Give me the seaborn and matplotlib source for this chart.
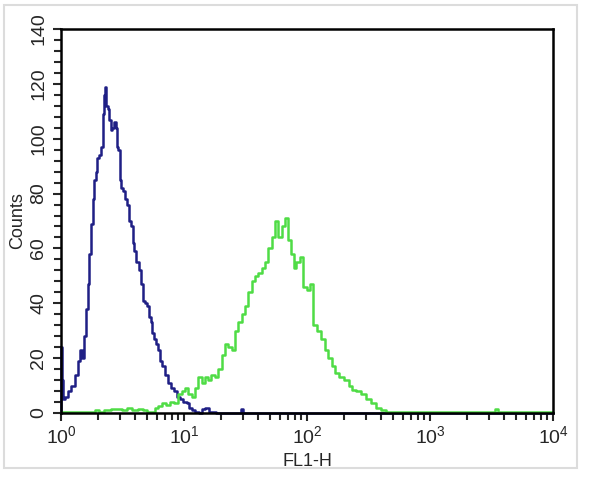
import matplotlib
matplotlib.use("Agg")
import matplotlib.pyplot as plt
from matplotlib.patches import Rectangle
from matplotlib.ticker import MultipleLocator, LogLocator
import seaborn as sns

# Control histogram (blue): FL1-H position, counts
blue_x = [1.0, 1.005, 1.03, 1.06, 1.10, 1.17, 1.26, 1.33, 1.40, 1.47, 1.52, 1.57, 1.62, 1.67,
          1.73, 1.78, 1.84, 1.89, 1.95, 2.01, 2.08, 2.14, 2.21, 2.27, 2.31, 2.37, 2.43, 2.50,
          2.58, 2.66, 2.75, 2.84, 2.90, 2.96, 3.02, 3.12, 3.21, 3.36, 3.53, 3.65, 3.76, 3.88,
          4.00, 4.20, 4.39, 4.53, 4.67, 4.90, 5.13, 5.30, 5.46, 5.63, 5.81, 6.00, 6.18, 6.50,
          6.79, 7.20, 7.70, 8.10, 8.45, 9.00, 9.58, 10.2, 10.8, 11.3, 11.9, 12.8, 13.5, 14.5,
          15.4, 16.5, 20.0, 29.0, 29.6, 30.5, 50.0, 100.0, 500.0, 1000.0, 5000.0, 10000.0]
blue_counts = [0, 24, 12, 5, 6, 8, 10, 14, 19, 23, 20, 28, 38, 47,
               58, 69, 78, 85, 88, 93, 94, 97, 109, 116, 119, 112, 111, 107,
               103, 104, 106, 104, 97, 96, 85, 82, 81, 78, 76, 70, 68, 62,
               59, 55, 52, 47, 41, 40, 39, 35, 33, 29, 27, 25, 23, 19,
               17, 14, 11, 9, 8, 6, 5, 4, 3.5, 2, 1, 0.5, 0, 1.5,
               2, 0.5, 0, 0, 1.5, 0, 0, 0, 0, 0, 0, 0]

# Stained sample histogram (green)
green_x = [1.0, 1.2, 1.5, 1.8, 1.95, 2.1, 2.4, 2.7, 3.0, 3.3, 3.6, 4.0, 4.4, 4.8, 5.2, 5.6,
           6.0, 6.4, 6.8, 7.4, 8.0, 8.7, 9.3, 10.0, 10.5, 11.2, 11.9, 12.7, 13.5, 14.3, 15.2,
           16.2, 17.2, 18.4, 19.6, 20.8, 22.2, 23.6, 25.2, 26.8, 28.5, 30.4, 32.3, 34.4, 36.6,
           39.0, 41.4, 44.0, 47.0, 50.0, 53.2, 56.7, 60.2, 64.1, 68.2, 72.6, 76.0, 79.8, 84.0,
           90.4, 96.1, 103.0, 108.9, 116.0, 125.0, 135.0, 145.0, 154.0, 164.0, 174.0, 190.0,
           210.0, 225.0, 237.0, 260.0, 286.0, 315.0, 346.0, 380.0, 418.0, 460.0, 520.0, 800.0,
           1500.0, 3300.0, 3470.0, 3650.0, 6000.0, 10000.0]
green_counts = [0.5, 0.5, 0.5, 0.5, 1, 0.5, 1, 1.5, 1.5, 1, 2, 1, 1.5, 1, 0.5, 0.5,
                2, 2.5, 3.5, 3, 4, 3.5, 7, 8, 9, 7, 6, 9, 13, 11, 13,
                12, 14, 13, 16, 21, 25, 24, 23, 30, 33, 36, 39, 44, 48,
                50, 51, 53, 55, 60, 64, 70, 64, 68, 71, 63, 58, 53, 55,
                57, 46, 45, 47, 32, 30, 27, 23, 20, 17, 14.5, 13,
                12, 10, 8.5, 8, 7, 5, 3.5, 2, 1, 0.5, 0.5, 0.5,
                0.5, 0.5, 1.5, 0.5, 0.5, 0.5]

y_ticks = [0, 20, 40, 60, 80, 100, 120, 140]

sns.set_style("ticks")
plt.rcParams['font.family'] = ['Liberation Sans', 'DejaVu Sans']
plt.rcParams['mathtext.fontset'] = 'custom'
plt.rcParams['mathtext.rm'] = 'Liberation Sans'

fig = plt.figure(figsize=(6, 4.92), dpi=100)
fig.patches.append(Rectangle((4 / 600, 1 - 468 / 492), 573 / 600, 463 / 492,
                             transform=fig.transFigure, fill=False,
                             edgecolor="#dcdcdc", linewidth=1.5))
ax = fig.add_axes([61 / 600, 1 - 413 / 492, 492 / 600, 384 / 492])

sns.lineplot(x=blue_x, y=blue_counts, ax=ax, color="#1f1f85", linewidth=1.8,
             drawstyle="steps-mid", estimator=None, clip_on=False)
sns.lineplot(x=green_x, y=green_counts, ax=ax, color="#4fdc45", linewidth=1.8,
             drawstyle="steps-mid", estimator=None, clip_on=False)

ax.set_xscale("log")
ax.set_xlim(1, 10000)
ax.set_ylim(0, 140)
ax.set_yticks(y_ticks)
ax.yaxis.set_minor_locator(MultipleLocator(4))
ax.xaxis.set_minor_locator(LogLocator(base=10, subs=range(2, 10)))

for s in ax.spines.values():
    s.set_linewidth(1.8)
    s.set_color("black")

ax.tick_params(axis="both", which="major", length=6, width=1.5, labelsize=14)
ax.tick_params(axis="both", which="minor", length=5, width=1.5)
ax.tick_params(axis="y", which="major", pad=4)
ax.tick_params(axis="x", which="major", pad=3)
for lab in ax.get_yticklabels():
    lab.set_rotation(90)
    lab.set_va("center")

ax.set_xlabel("FL1-H", fontsize=13, labelpad=4)
ax.set_ylabel("Counts", fontsize=13, labelpad=3)

fig.savefig("out.png", dpi=100)
